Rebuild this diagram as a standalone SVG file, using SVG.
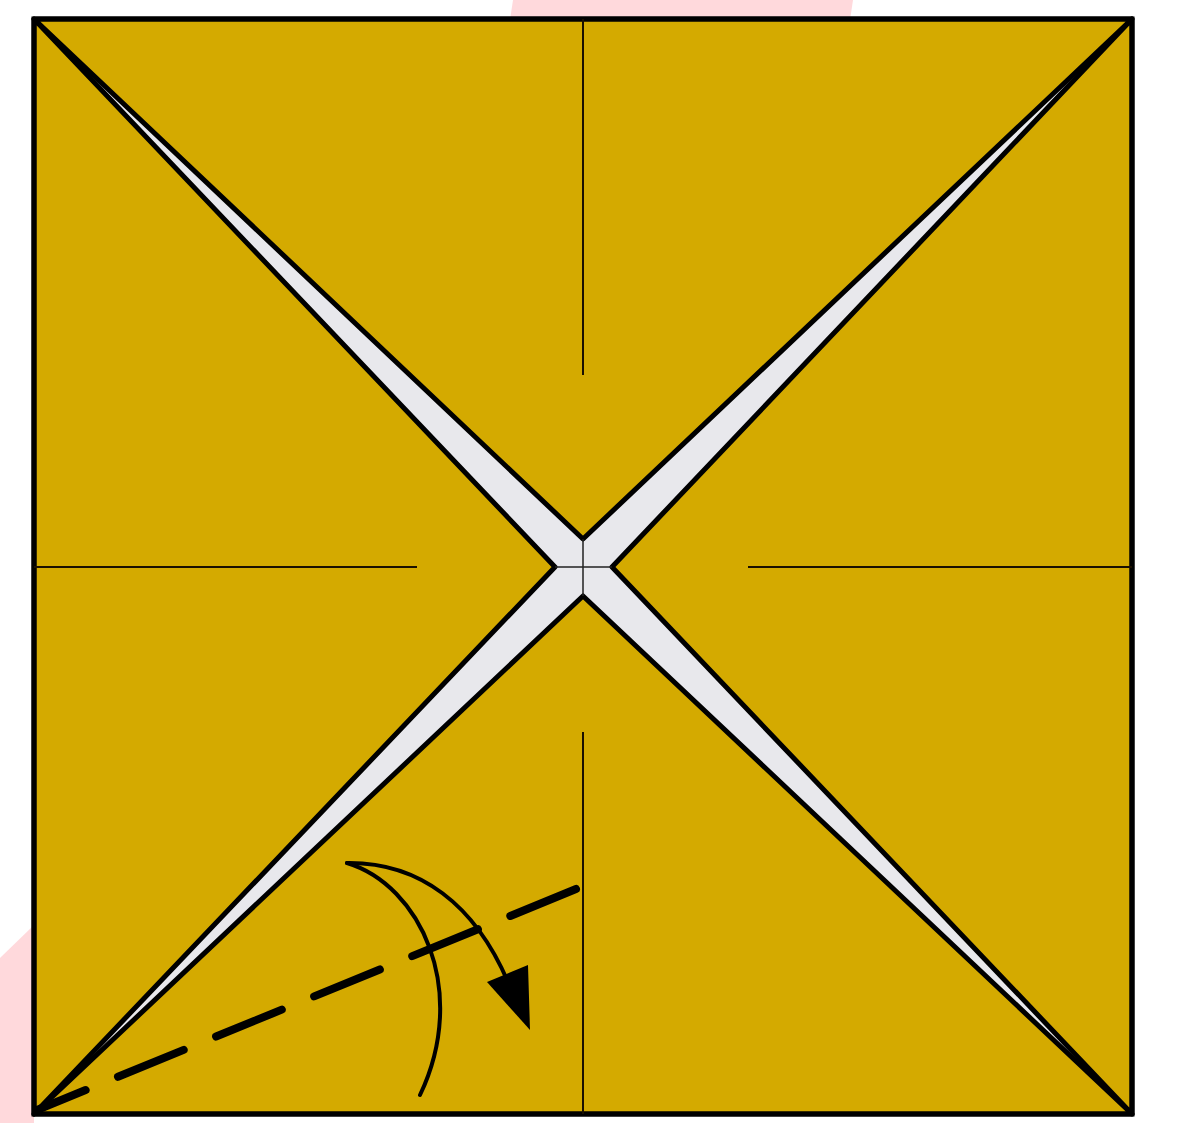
<svg xmlns="http://www.w3.org/2000/svg" width="1192" height="1123" viewBox="0 0 1192 1123">
  <style>
    .flap { fill: #D4AA00; stroke: #000; stroke-width: 5; stroke-linejoin: round; }
    .crease { stroke: #1a1000; stroke-width: 2; fill: none; }
    .thin { stroke: #222; stroke-width: 1.5; fill: none; }
    .move { stroke: #000; fill: none; stroke-linecap: round; }
  </style>
  <rect width="1192" height="1123" fill="#fff"/>
  <g id="watermark" fill="#FFD9DC">
    <polygon points="513,0 853,0 850,20 510,20"/>
    <polygon points="0,958 34,925 34,1123 0,1123"/>
  </g>
  <g id="paper">
    <rect x="34" y="19" width="1098" height="1095" fill="#E8E8EC" stroke="#000" stroke-width="4"/>
    <polygon class="flap" points="34,19 1132,19 583,539"/>
    <polygon class="flap" points="1132,19 1132,1114 612,567"/>
    <polygon class="flap" points="1132,1114 34,1114 583,596"/>
    <polygon class="flap" points="34,1114 34,19 555,567"/>
    <rect x="34" y="19" width="1098" height="1095" fill="none" stroke="#000" stroke-width="5"/>
  </g>
  <g id="creases">
    <line class="crease" x1="583" y1="19" x2="583" y2="375"/>
    <line class="crease" x1="583" y1="732" x2="583" y2="1114"/>
    <line class="crease" x1="34" y1="567" x2="417" y2="567"/>
    <line class="crease" x1="748" y1="567" x2="1132" y2="567"/>
    <line class="thin" x1="583" y1="539" x2="583" y2="596"/>
    <line class="thin" x1="555" y1="567" x2="612" y2="567"/>
  </g>
  <g id="connectors">
    <path class="move" d="M576,889 L37,1110" stroke-width="8" stroke-dasharray="71 35" stroke-linecap="butt"/>
    <path class="move" d="M347,863 C420,885 470,990 420,1095" stroke-width="4"/>
    <path class="move" d="M347,863 C420,862 475,905 508,982" stroke-width="4"/>
    <polygon points="487,982 528,965 530,1030" fill="#000"/>
  </g>
</svg>
